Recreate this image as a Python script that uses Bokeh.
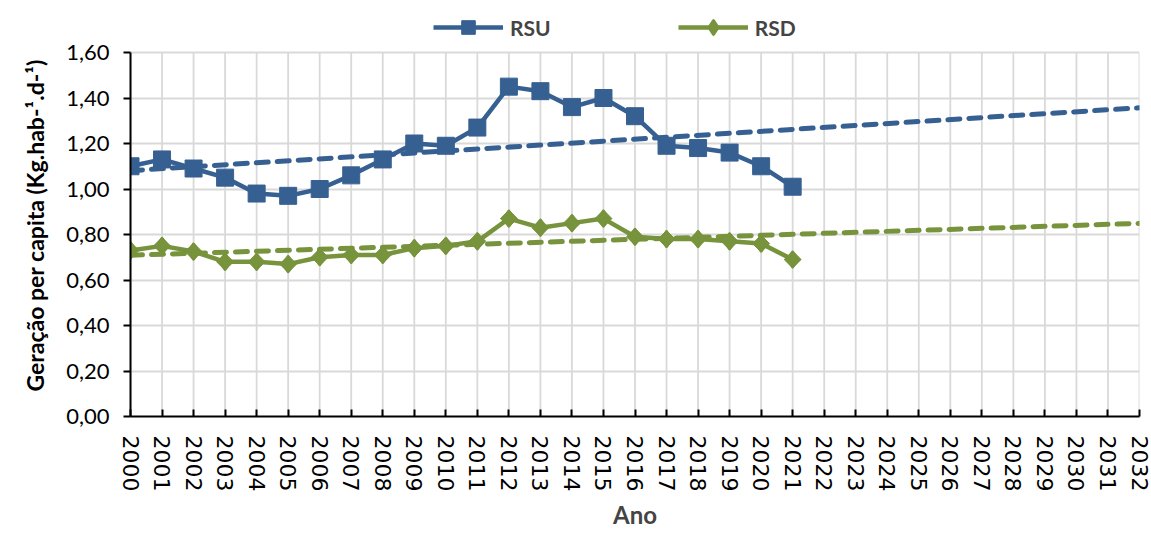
import numpy as np
from bokeh.plotting import figure
from bokeh.models import (ColumnDataSource, FixedTicker, CustomJSTickFormatter,
                          Legend, LegendItem, Range1d, Title)
from bokeh.embed import file_html
from bokeh.resources import INLINE

# Per-capita waste generation (kg/hab/day)
years = list(range(2000, 2022))
rsu = [1.10, 1.13, 1.09, 1.05, 0.98, 0.97, 1.00, 1.06, 1.13, 1.20, 1.19,
       1.27, 1.45, 1.43, 1.36, 1.40, 1.32, 1.19, 1.18, 1.16, 1.10, 1.01]
rsd = [0.73, 0.75, 0.725, 0.68, 0.68, 0.67, 0.70, 0.71, 0.71, 0.74, 0.75,
       0.77, 0.87, 0.83, 0.85, 0.87, 0.79, 0.78, 0.78, 0.77, 0.76, 0.69]
axis_years = list(range(2000, 2033))
y_ticks = [0.0, 0.2, 0.4, 0.6, 0.8, 1.0, 1.2, 1.4, 1.6]

BLUE = "#376092"
GREEN = "#77933C"
GRID = "#d9d9d9"

# plotting area: value axis spans 364 px, frame extends 52 px higher for the legend
AXIS_PX, TOP_PX = 364, 52
y_top = y_ticks[-1] * (AXIS_PX + TOP_PX) / AXIS_PX

# Linear trend lines fitted on the observed years, projected to 2032
def trend(vals):
    k, b = np.polyfit(years, vals, 1)
    xs = [axis_years[0], axis_years[-1]]
    return xs, [k * x + b for x in xs]

p = figure(width=1151, height=536, output_backend="svg", toolbar_location=None,
           x_range=Range1d(axis_years[0], axis_years[-1]),
           y_range=Range1d(0, y_top),
           min_border_left=130, min_border_right=12, min_border_top=0,
           min_border_bottom=120)
p.outline_line_color = None
p.background_fill_color = "white"
p.border_fill_color = "white"

# grid: horizontal lines from the y grid, vertical lines limited to the value axis
p.xgrid.visible = False
p.ygrid.ticker = FixedTicker(ticks=y_ticks)
p.ygrid.grid_line_color = GRID
p.ygrid.grid_line_width = 1.8
p.segment(x0=axis_years, y0=[y_ticks[0]] * len(axis_years),
          x1=axis_years, y1=[y_ticks[-1]] * len(axis_years),
          line_color=GRID, line_width=1.8)

# x axis
xa = p.xaxis[0]
xa.ticker = FixedTicker(ticks=axis_years)
xa.formatter = CustomJSTickFormatter(code="return String(tick)")
xa.major_label_orientation = "vertical"
xa.major_label_text_font = "DejaVu Sans"
xa.major_label_text_font_size = "22px"
xa.major_label_text_color = "black"
xa.major_label_standoff = 19
xa.major_tick_in = 7
xa.major_tick_out = 0
xa.minor_tick_line_color = None
xa.axis_line_width = 2
xa.major_tick_line_width = 2
xa.axis_line_color = "black"
xa.major_tick_line_color = "black"
xa.axis_label = "Ano"
xa.axis_label_text_font = "Lato"
xa.axis_label_text_font_style = "bold"
xa.axis_label_text_font_size = "24px"
xa.axis_label_standoff = 6

# y axis
ya = p.yaxis[0]
ya.ticker = FixedTicker(ticks=y_ticks)
ya.bounds = (y_ticks[0], y_ticks[-1])
ya.formatter = CustomJSTickFormatter(code="return tick.toFixed(2).replace('.', ',')")
ya.major_label_text_font = "Lato"
ya.major_label_text_font_size = "22px"
ya.major_label_text_color = "black"
ya.major_label_standoff = 14
ya.major_tick_in = 0
ya.major_tick_out = 7
ya.minor_tick_line_color = None
ya.axis_line_width = 2
ya.major_tick_line_width = 2
ya.axis_line_color = "black"
ya.major_tick_line_color = "black"

# value-axis title, anchored at the bottom of the plotting area
p.add_layout(Title(text="Geração per capita  (Kg.hab-¹.d-¹)", align="left",
                   offset=25, standoff=30, text_font="Lato",
                   text_font_style="bold", text_font_size="23px",
                   text_color="black"), "left")

src = ColumnDataSource(dict(x=years, rsu=rsu, rsd=rsd))

# trend lines
tx, ty = trend(rsu)
p.line(tx, ty, line_color=BLUE, line_width=5, line_dash="12 9", line_cap="round")
tx, ty = trend(rsd)
p.line(tx, ty, line_color=GREEN, line_width=5, line_dash="12 9", line_cap="round")

# series
l1 = p.line("x", "rsu", source=src, line_color=BLUE, line_width=4.5)
m1 = p.scatter("x", "rsu", source=src, marker="square", size=17,
               fill_color=BLUE, line_color=BLUE)
l2 = p.line("x", "rsd", source=src, line_color=GREEN, line_width=4.5)
# diamond marker (sits inside the rotated square below; also serves the legend)
d2 = p.scatter("x", "rsd", source=src, marker="diamond", size=15,
               fill_color=GREEN, line_color=GREEN, line_width=3,
               line_join="round")
m2 = p.scatter("x", "rsd", source=src, marker="square", angle=np.pi / 4, size=12,
               fill_color=GREEN, line_color=GREEN)

legend = Legend(items=[LegendItem(label="RSU", renderers=[l1, m1]),
                       LegendItem(label="RSD", renderers=[l2, d2])],
                orientation="horizontal", location=(303, 372),
                glyph_width=70, glyph_height=34, label_standoff=7,
                spacing=127, padding=0, margin=0,
                border_line_color=None, background_fill_alpha=0,
                label_text_font="Lato", label_text_font_style="bold",
                label_text_font_size="21px")
p.add_layout(legend)

open("out.html", "w").write(file_html(p, INLINE))
